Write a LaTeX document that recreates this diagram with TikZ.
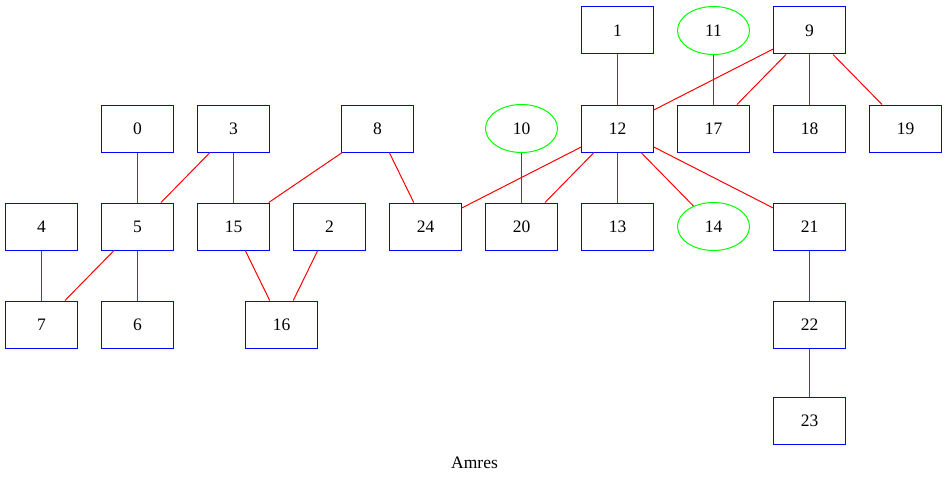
\documentclass[tikz,border=0pt]{standalone}
\usepackage{fontspec}
\setmainfont{Liberation Serif}
\usetikzlibrary{shapes}

\begin{document}
\begin{tikzpicture}[x=1pt,y=-1pt,
        box/.style={draw=blue,rectangle,minimum width=72pt,minimum height=47pt,inner sep=0pt,font=\fontsize{17.5}{20}\selectfont},
        oval/.style={draw=green,ellipse,minimum width=72pt,minimum height=48pt,inner sep=0pt,font=\fontsize{17.5}{20}\selectfont},
        link/.style={draw=red,line width=1pt}]
            \useasboundingbox (-0.5,-0.5) rectangle (946.5,486.5);
            \tikzset{every node/.append style={line width=1pt}}
            % boxes: name/x/y
            \foreach \n/\x/\y in {1/617/30,9/809/30,
                    0/137/128,3/233/128,8/377/128,12/617/128,17/713/128,18/809/128,19/905/128,
                    4/41/226,5/137/226,15/233/226,2/329/226,24/425/226,20/521/226,13/617/226,21/809/226,
                    7/41/324,6/137/324,16/281/324,22/809/324,
                    23/809/420}{
                \node[box] (n\n) at (\x,\y) {\n};
            }
            \node[oval] (n11) at (713,30) {11};
            \node[oval] (n10) at (521,128) {10};
            \node[oval] (n14) at (713,226) {14};
            % edges
            \foreach \a/\b in {0/5,3/5,3/15,8/15,8/24,4/7,5/7,5/6,15/16,2/16,10/20,
                    1/12,11/17,9/12,9/17,9/18,9/19,12/24,12/20,12/13,12/14,12/21,21/22,22/23}{
                \draw[link] (n\a)--(n\b);
            }
            \node[font=\fontsize{17.5}{20}\selectfont] (title) at (474,462) {Amres};
        \end{tikzpicture}
\end{document}
